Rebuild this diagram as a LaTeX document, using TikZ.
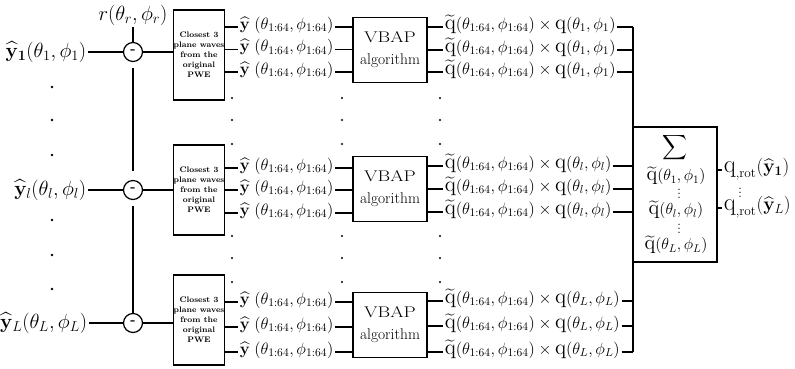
\documentclass[tikz,border=0pt]{standalone}
\usepackage{fix-cm}
\usepackage{amsmath}
\usepackage{graphicx}
% upright q drawn a little larger than the surrounding math
\newcommand{\Qup}{\scalebox{1.3}{$\mathrm{q}$}}
\newcommand{\Qtil}{\widetilde{\Qup}}
\newcommand{\yhat}{\widehat{\mathbf{y}}}
\tikzset{
  lab/.style={inner sep=1pt, font=\fontsize{20.5}{24}\selectfont},
  ylab/.style={inner sep=1pt, font=\fontsize{16.5}{20}\selectfont,
    text height=0.75em, text depth=0.25em},
  qlab/.style={inner sep=1pt, font=\fontsize{16.5}{20}\selectfont,
    text height=0.75em, text depth=0.25em},
  olab/.style={inner sep=1pt, font=\fontsize{19}{22}\selectfont,
    text height=0.75em, text depth=0.25em},
  slab/.style={inner sep=0pt, font=\fontsize{16}{18}\selectfont},
  minus/.style={circle, draw, line width=1.2pt, minimum size=19pt, inner sep=0pt,
    font=\fontsize{14}{14}\selectfont\bfseries},
  pwe/.style={draw, minimum width=48pt, minimum height=90pt, inner sep=0pt,
    align=center, font=\fontsize{8}{10}\selectfont\bfseries},
  vbap/.style={draw, minimum width=74pt, minimum height=65pt, inner sep=0pt,
    align=center, font=\fontsize{15.5}{22}\selectfont},
  dotmark/.style={fill=black},
}
\begin{document}
\begin{tikzpicture}[x=1pt, y=-1pt, line width=1.6pt]
\useasboundingbox (0,0) rectangle (795,369);

% ---------- reference direction and subtraction column ----------
\node[lab] (r) at (133,15) {$r(\theta_r,\phi_r)$};

\node[lab, anchor=east] (in1) at (88,52) {$\yhat_{\mathbf{1}}(\theta_1,\phi_1)$};
\node[lab, anchor=east] (in2) at (88,190) {$\yhat_l(\theta_l,\phi_l)$};
\node[lab, anchor=east] (in3) at (89,323) {$\yhat_L(\theta_L,\phi_L)$};

\node[minus] (c1) at (133,52) {-};
\node[minus] (c2) at (133,190) {-};
\node[minus] (c3) at (133,323) {-};

\draw (r) -- (c1);
\draw (in1) -- (c1);
\draw (in2) -- (c2);
\draw (in3) -- (c3);
\draw[shorten <=6pt, shorten >=9pt] (c1.south) -- (c2.north);
\draw[shorten <=6pt] (c2.south) -- (c3.north);

% ---------- plane-wave selection boxes ----------
\node[pwe] (p1) at (199,55) {Closest 3\\plane waves\\from the\\original\\PWE};
\node[pwe] (p2) at (199,190) {Closest 3\\plane waves\\from the\\original\\PWE};
\node[pwe] (p3) at (199,320) {Closest 3\\plane waves\\from the\\original\\PWE};
\draw (c1) -- (c1 -| p1.west);
\draw (c2) -- (c2 -| p2.west);
\draw (c3) -- (c3 -| p3.west);

% ---------- VBAP boxes ----------
\node[vbap] (v1) at (390,50) {\scalebox{1.25}[1]{VBAP}\\algorithm};
\node[vbap] (v2) at (390,189) {\scalebox{1.25}[1]{VBAP}\\algorithm};
\node[vbap] (v3) at (390,325) {\scalebox{1.25}[1]{VBAP}\\algorithm};

% ---------- summation bus and box ----------
\coordinate (bustop) at (633,27);
\coordinate (busbot) at (633,352);
\draw[line width=2pt] (bustop) -- (busbot);
\node[draw, minimum width=84pt, minimum height=135pt, inner sep=0pt] (sum) at (675,194.5) {};
\node[inner sep=0pt, font=\fontsize{17}{17}\selectfont] (sg) at (675,148) {$\displaystyle\sum$};
\node[slab] (s1) at (676,176) {$\Qtil(\theta_1,\phi_1)$};
\node[slab] (s2) at (676,210) {$\Qtil(\theta_l,\phi_l)$};
\node[slab] (s3) at (676,245) {$\Qtil(\theta_L,\phi_L)$};
\node[slab] (sd1) at (679,191) {$\vdots$};
\node[slab] (sd2) at (679,226) {$\vdots$};

% ---------- rows of plane-wave signals ----------
\foreach \k/\yy/\qy in {1/27/27, 2/49.5/50, 3/72/72} {
  \node[ylab, anchor=west] (ya\k) at (238,\yy) {$\yhat\;(\theta_{1:64},\phi_{1:64})$};
  \draw (ya\k.west -| p1.east) -- (ya\k.west);
  \draw (ya\k.east) -- (ya\k.east -| v1.west);
  \node[qlab, anchor=west] (qa\k) at (443,\qy) {$\Qtil(\theta_{1:64},\phi_{1:64})\times\Qup(\theta_1,\phi_1)$};
  \draw (qa\k.west -| v1.east) -- (qa\k.west);
  \draw (qa\k.east) -- (qa\k.east -| bustop);
}
\foreach \k/\yy/\qy in {1/168/166, 2/190/189, 3/213/212} {
  \node[ylab, anchor=west] (yb\k) at (238,\yy) {$\yhat\;(\theta_{1:64},\phi_{1:64})$};
  \draw (yb\k.west -| p2.east) -- (yb\k.west);
  \draw (yb\k.east) -- (yb\k.east -| v2.west);
  \node[qlab, anchor=west] (qb\k) at (443,\qy) {$\Qtil(\theta_{1:64},\phi_{1:64})\times\Qup(\theta_l,\phi_l)$};
  \draw (qb\k.west -| v2.east) -- (qb\k.west);
  \draw (qb\k.east) -- (qb\k.east -| bustop);
}
\foreach \k/\yy/\qy in {1/302/301, 2/327/326, 3/352/352} {
  \node[ylab, anchor=west] (yc\k) at (238,\yy) {$\yhat\;(\theta_{1:64},\phi_{1:64})$};
  \draw (yc\k.west -| p3.east) -- (yc\k.west);
  \draw (yc\k.east) -- (yc\k.east -| v3.west);
  \node[qlab, anchor=west] (qc\k) at (443,\qy) {$\Qtil(\theta_{1:64},\phi_{1:64})\times\Qup(\theta_L,\phi_L)$};
  \draw (qc\k.west -| v3.east) -- (qc\k.west);
  \draw (qc\k.east) -- (qc\k.east -| bustop);
}

% ---------- rotated outputs ----------
\node[olab, anchor=west] (o1) at (722,170) {$\Qup_{,\mathrm{rot}}(\yhat_{\mathbf{1}})$};
\node[olab, anchor=west] (o2) at (722,208) {$\Qup_{,\mathrm{rot}}(\yhat_L)$};
\draw (o1.west -| sum.east) -- (o1.west);
\draw (o2.west -| sum.east) -- (o2.west);
\node[slab] (od) at (740,190) {$\vdots$};

% ---------- continuation dots ----------
\foreach \yy in {87,120,155,220,255,289}
  \fill[dotmark] (52,\yy) circle (1.4pt);
\foreach \xx in {232,342,440}
  \foreach \yy in {98,120,144,236,258,282}
    \fill[dotmark] (\xx,\yy) circle (1.2pt);
\end{tikzpicture}
\end{document}
